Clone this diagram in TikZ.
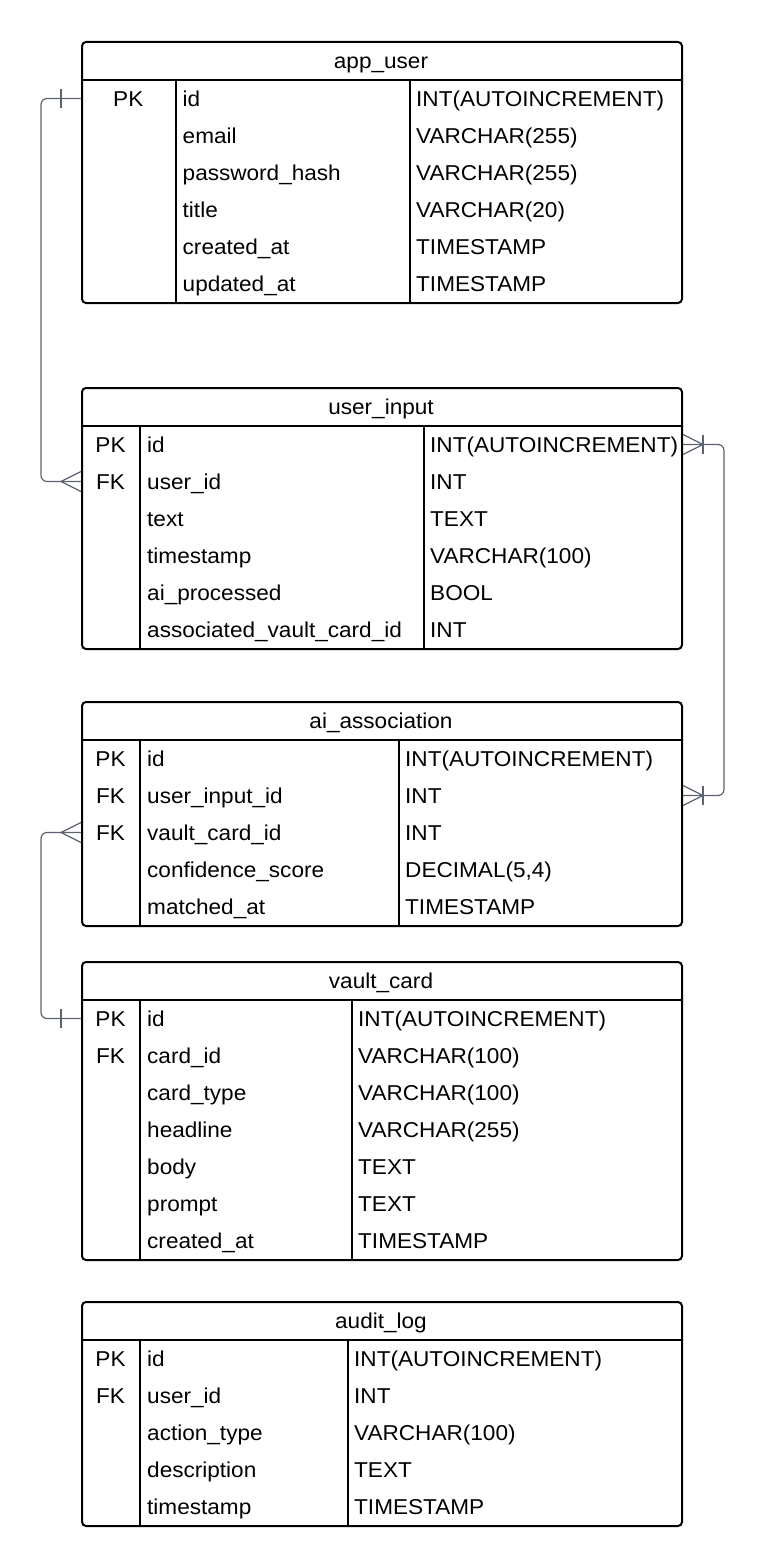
\documentclass[tikz,border=0pt]{standalone}
\usepackage{fontspec}
\setmainfont{Liberation Sans}[FakeStretch=1.05]
\definecolor{relc}{HTML}{5C6370}
\tikzset{
  tbl/.style={draw=black, line width=2pt, rounded corners=4pt, minimum width=600pt,
    anchor=north west, inner sep=0pt},
  gridline/.style={draw=black, line width=2pt},
  cell/.style={inner sep=0pt, text height=15.5pt, text depth=0pt,
    font=\fontsize{21.5}{26}\selectfont},
  ttl/.style={cell},
  rel/.style={draw=relc, line width=1.2pt},
  relpath/.style={rel, rounded corners=6pt}
}
% #1 node name, #2 top edge, #3 first divider, #4 second divider,
% #5 table title, #6 rows (key/name/type), #7 number of rows
\newcommand\ertable[7]{%
  \pgfmathsetmacro\tblh{39+37*#7}%
  \draw[gridline] (81,#2+39) -- (681,#2+39);
  \draw[gridline] (#3,#2+39) -- (#3,#2+\tblh);
  \draw[gridline] (#4,#2+39) -- (#4,#2+\tblh);
  \node[tbl, minimum height=\tblh pt] (#1) at (81,#2) {};
  \node[ttl] (#1-title) at (381,#2+19.5) {#5};
  \foreach \k/\n/\t [count=\i] in {#6} {
    \pgfmathsetmacro\ry{#2+39+37*\i-18.5}
    \node[cell] (#1-k\i) at ({(81+#3)/2},\ry) {\k};
    \node[cell, anchor=west] (#1-n\i) at (#3+7,\ry) {\n};
    \node[cell, anchor=west] (#1-t\i) at (#4+6,\ry) {\t};
  }%
}
\begin{document}
\begin{tikzpicture}[x=1pt, y=-1pt]
\useasboundingbox (0,0) rectangle (762,1565);

\ertable{appuser}{41}{175.5}{410}{app\_user}{%
  PK/id/INT(AUTOINCREMENT),
  {}/email/VARCHAR(255),
  {}/password\_hash/VARCHAR(255),
  {}/title/VARCHAR(20),
  {}/created\_at/TIMESTAMP,
  {}/updated\_at/TIMESTAMP}{6}

\ertable{userinput}{387}{140}{424}{user\_input}{%
  PK/id/INT(AUTOINCREMENT),
  FK/user\_id/INT,
  {}/text/TEXT,
  {}/timestamp/VARCHAR(100),
  {}/ai\_processed/BOOL,
  {}/associated\_vault\_card\_id/INT}{6}

\ertable{aiassoc}{701}{140}{399}{ai\_association}{%
  PK/id/INT(AUTOINCREMENT),
  FK/user\_input\_id/INT,
  FK/vault\_card\_id/INT,
  {}/confidence\_score/{DECIMAL(5,4)},
  {}/matched\_at/TIMESTAMP}{5}

\ertable{vaultcard}{961}{140}{352}{vault\_card}{%
  PK/id/INT(AUTOINCREMENT),
  FK/card\_id/VARCHAR(100),
  {}/card\_type/VARCHAR(100),
  {}/headline/VARCHAR(255),
  {}/body/TEXT,
  {}/prompt/TEXT,
  {}/created\_at/TIMESTAMP}{7}

\ertable{auditlog}{1301}{140}{348}{audit\_log}{%
  PK/id/INT(AUTOINCREMENT),
  FK/user\_id/INT,
  {}/action\_type/VARCHAR(100),
  {}/description/TEXT,
  {}/timestamp/TIMESTAMP}{5}

% connector end points on the table borders
\coordinate (r1a) at (appuser.west |- appuser-k1);
\coordinate (r1b) at (userinput.west |- userinput-k2);
\coordinate (r2a) at (userinput.east |- userinput-k1);
\coordinate (r2b) at (aiassoc.east |- aiassoc-k2);
\coordinate (r3a) at (aiassoc.west |- aiassoc-k3);
\coordinate (r3b) at (vaultcard.west |- vaultcard-k1);

% app_user.id (one) -- user_input.user_id (many)
\draw[relpath] (r1a) -- ++(-40pt,0pt) |- (r1b);
\draw[rel] (r1a) ++(-20pt,9.5pt) -- ++(0pt,-19pt);
\draw[rel] (r1b) ++(0pt,10pt) -- ++(-20pt,-10pt) -- ++(20pt,-10pt);

% user_input.id (one or many) -- ai_association.user_input_id (one or many)
\draw[relpath] (r2a) -- ++(41pt,0pt) |- (r2b);
\draw[rel] (r2a) ++(0pt,10pt) -- ++(20pt,-10pt) -- ++(-20pt,-10pt);
\draw[rel] (r2a) ++(20pt,9.5pt) -- ++(0pt,-19pt);
\draw[rel] (r2b) ++(0pt,10pt) -- ++(20pt,-10pt) -- ++(-20pt,-10pt);
\draw[rel] (r2b) ++(20pt,9.5pt) -- ++(0pt,-19pt);

% ai_association.vault_card_id (many) -- vault_card.id (one)
\draw[relpath] (r3a) -- ++(-40pt,0pt) |- (r3b);
\draw[rel] (r3a) ++(0pt,10pt) -- ++(-20pt,-10pt) -- ++(20pt,-10pt);
\draw[rel] (r3b) ++(-20pt,9.5pt) -- ++(0pt,-19pt);
\end{tikzpicture}
\end{document}
